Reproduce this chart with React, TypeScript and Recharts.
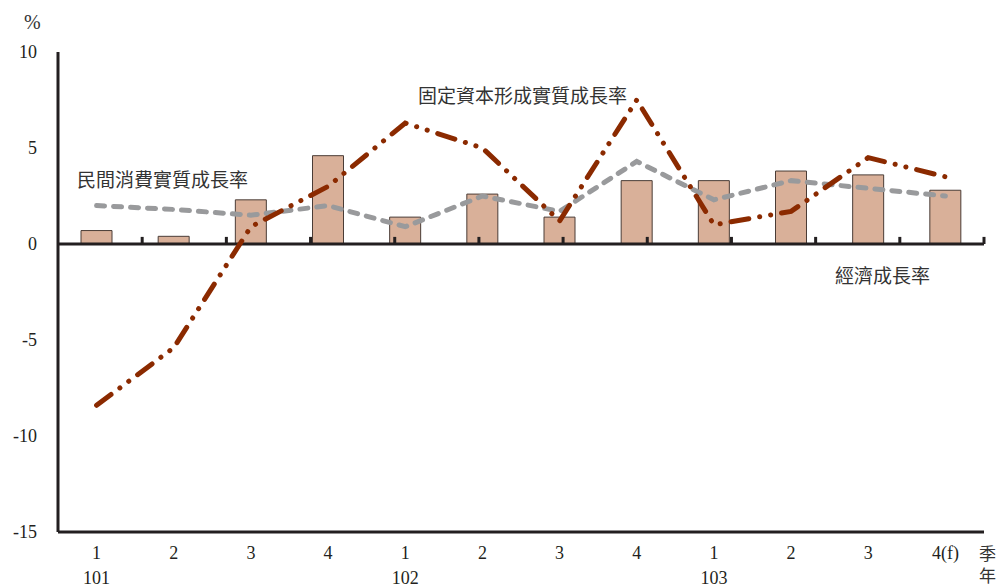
import React from "react";
import {
  ComposedChart,
  Bar,
  Line,
  XAxis,
  YAxis,
  ReferenceLine,
} from "recharts";

const KEYS = ["a1", "a2", "a3", "a4", "b1", "b2", "b3", "b4", "c1", "c2", "c3", "c4"];
const QUARTERS = ["1", "2", "3", "4", "1", "2", "3", "4", "1", "2", "3", "4(f)"];
const YEARS = ["101", "", "", "", "102", "", "", "", "103", "", "", ""];

// 經濟成長率
const GDP = [0.7, 0.4, 2.3, 4.6, 1.4, 2.6, 1.4, 3.3, 3.3, 3.8, 3.6, 2.8];
// 民間消費實質成長率
const CONSUMPTION = [2.0, 1.8, 1.5, 2.0, 0.9, 2.5, 1.7, 4.3, 2.3, 3.3, 2.9, 2.5];
// 固定資本形成實質成長率
const FIXED_CAPITAL = [-8.4, -5.4, 0.9, 3.0, 6.3, 5.0, 1.2, 7.5, 1.0, 1.7, 4.5, 3.5];

const Y_DOMAIN = [-15, 10];
const Y_TICKS = [-15, -10, -5, 0, 5, 10];

const data = KEYS.map((key, i) => ({
  key,
  gdp: GDP[i],
  consumption: CONSUMPTION[i],
  fixed: FIXED_CAPITAL[i],
}));

// category boundaries (between quarter i and i+1) on a 0..12 helper axis
const BOUNDS = KEYS.slice(1).map((_, i) => i + 1);

const INK = "#231f20";
const SERIF = "'Times New Roman', 'Liberation Serif', 'DejaVu Serif', serif";
const CJK = "'Noto Sans CJK TC', sans-serif";

const QuarterTick = (props: any) => {
  const { x, y, payload } = props;
  const i = payload.index;
  return (
    <g>
      <text x={x} y={y + 25} textAnchor="middle" style={{ fontFamily: SERIF }} fontSize={18} fill={INK}>
        {QUARTERS[i]}
      </text>
      {YEARS[i] && (
        <text x={x} y={y + 50} textAnchor="middle" style={{ fontFamily: SERIF }} fontSize={18} fill={INK}>
          {YEARS[i]}
        </text>
      )}
    </g>
  );
};

const YTick = (props: any) => {
  const { x, y, payload } = props;
  return (
    <text x={x} y={y} dy={6} textAnchor="end" style={{ fontFamily: SERIF }} fontSize={18} fill={INK}>
      {payload.value}
    </text>
  );
};

const note = (left: number, top: number, text: string, font = CJK, size = 19) => (
  <div
    style={{
      position: "absolute",
      left,
      top,
      fontFamily: font,
      fontSize: size,
      color: "#333",
      lineHeight: 1,
      whiteSpace: "nowrap",
    }}
  >
    {text}
  </div>
);

export default function App() {
  return (
    <div style={{ position: "absolute", left: 0, top: 0, width: 998, height: 585, background: "#fff", overflow: "hidden" }}>
      <ComposedChart
        width={998}
        height={585}
        data={data}
        margin={{ top: 52, right: 14, bottom: 0, left: 0 }}
      >
        <XAxis
          dataKey="key"
          height={53}
          tickLine={false}
          tickSize={0}
          tick={<QuarterTick />}
          interval={0}
          axisLine={{ stroke: INK, strokeWidth: 3 }}
        />
        <XAxis
          xAxisId="top"
          dataKey="key"
          orientation="top"
          height={0}
          tick={false}
          tickLine={false}
          axisLine={{ stroke: INK, strokeWidth: 3 }}
        />
        <XAxis xAxisId="bounds" type="number" domain={[0, KEYS.length]} hide />
        <YAxis
          domain={Y_DOMAIN}
          ticks={Y_TICKS}
          width={58}
          tickLine={false}
          tickSize={0}
          tickMargin={21}
          tick={<YTick />}
          axisLine={{ stroke: INK, strokeWidth: 3 }}
        />
        <YAxis
          yAxisId="right"
          orientation="right"
          domain={Y_DOMAIN}
          width={0}
          tick={false}
          tickLine={false}
          axisLine={{ stroke: INK, strokeWidth: 3 }}
        />
        <Bar
          dataKey="gdp"
          barSize={31}
          fill="#d9b099"
          stroke="#4a3c36"
          strokeWidth={1}
          isAnimationActive={false}
        />
        <ReferenceLine y={0} stroke={INK} strokeWidth={3} />
        {/* short marks rising from the zero line at each category boundary */}
        {BOUNDS.map((b) => (
          <ReferenceLine
            key={b}
            xAxisId="bounds"
            ifOverflow="visible"
            segment={[
              { x: b, y: 0 },
              { x: b, y: 0.37 },
            ]}
            stroke={INK}
            strokeWidth={3}
          />
        ))}
        <Line
          dataKey="consumption"
          type="linear"
          stroke="#999a9c"
          strokeWidth={5}
          strokeDasharray="8 9"
          strokeLinecap="round"
          dot={false}
          isAnimationActive={false}
        />
        <Line
          dataKey="fixed"
          type="linear"
          stroke="#8b2a00"
          strokeWidth={5}
          strokeDasharray="18 11 0.1 11 0.1 11"
          strokeLinecap="round"
          dot={false}
          isAnimationActive={false}
        />
      </ComposedChart>
      {note(24, 12, "%", SERIF, 20)}
      {note(418, 85, "固定資本形成實質成長率")}
      {note(77, 169, "民間消費實質成長率")}
      {note(835, 265, "經濟成長率")}
      {note(979, 544, "季", CJK, 17)}
      {note(979, 566, "年", CJK, 17)}
    </div>
  );
}
